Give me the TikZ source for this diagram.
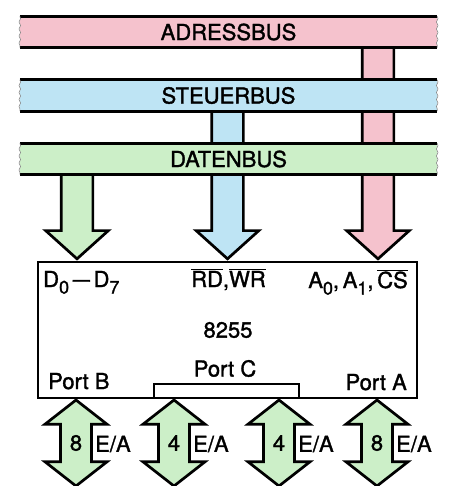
\documentclass[tikz,border=0pt]{standalone}
\usepackage{fontspec}
\setmainfont{TeX Gyre Heros}
\usetikzlibrary{shapes.arrows,decorations.pathmorphing}
\definecolor{busRosa}{HTML}{F5C2CD}
\definecolor{busBlau}{HTML}{BEE4F4}
\definecolor{busGruen}{HTML}{CCEFC8}
\newcommand{\tief}[1]{\raisebox{-6.5pt}{\fontsize{18}{20}\selectfont #1}}
\newcommand{\strich}{\,\scalebox{1.4}[1]{--}\,}

\begin{document}
\begin{tikzpicture}[
        x=1pt, y=-1pt,
        schrift/.style={font=\fontsize{22}{26}\selectfont\addfontfeature{FakeBold=1.5}},
        bus/.style={rectangle, schrift, inner sep=0pt, minimum width=417pt, minimum height=31pt},
        kante/.style={line width=3pt, draw=black},
        riss/.style={draw=black!45, line width=0.6pt, decorate, decoration={snake, amplitude=0.8pt, segment length=7pt}},
        buspfeil/.style={single arrow, shape border rotate=270, draw=black, line width=2.7pt, inner sep=14.5pt, single arrow head extend=15.5pt, single arrow tip angle=96, anchor=tip},
        iopfeil/.style={double arrow, shape border rotate=90, draw=black, line width=2.7pt, fill=busGruen, schrift, inner xsep=8pt, inner ysep=0pt, double arrow head extend=15.5pt, double arrow tip angle=104, minimum height=86pt},
        etikett/.style={schrift, inner sep=0pt}
    ]
    \useasboundingbox (0,0) rectangle (448,486);

    % Baustein 8255
    \node[draw, line width=2.7pt, minimum width=379pt, minimum height=136pt] (ppi) at (227.5,330) {};

    % Abzweige der Busse (liegen unter den Bussen)
    \coordinate (xD) at (77,0);
    \coordinate (xS) at (227.5,0);
    \coordinate (xA) at (378,0);
    \node[buspfeil, fill=busGruen, minimum height=96pt] (pfeilD) at (xD |- ppi.north) {};
    \node[buspfeil, fill=busBlau, minimum height=161pt] (pfeilS) at (xS |- ppi.north) {};
    \node[buspfeil, fill=busRosa, minimum height=221pt] (pfeilA) at (xA |- ppi.north) {};

    % Busse
    \node[bus, fill=busRosa] (adressbus) at (228.5,32) {ADRESSBUS};
    \node[bus, fill=busBlau] (steuerbus) at (228.5,95.5) {STEUERBUS};
    \node[bus, fill=busGruen] (datenbus) at (228.5,159) {DATENBUS};
    \foreach \b in {adressbus, steuerbus, datenbus} {
        \draw[kante] (\b.north west) -- (\b.north east);
        \draw[kante] (\b.south west) -- (\b.south east);
        \draw[riss] (\b.north west) -- (\b.south west);
        \draw[riss] (\b.north east) -- (\b.south east);
    }

    % Anschluesse
    \node[etikett, anchor=base west] (datenpins) at (43,287) {D\tief{0}\strich D\tief{7}};
    \node[etikett, anchor=base] (steuerpins) at (228.5,287) {$\overline{\mbox{RD}}$,$\overline{\mbox{WR}}$};
    \node[etikett, anchor=base east] (adrpins) at (408,288) {A\tief{0},\,A\tief{1},\,$\overline{\mbox{CS}}$};
    \node[etikett] (typ) at (228,330) {8255};
    \node[etikett] (portC) at (225,368.5) {Port C};
    \node[etikett, anchor=base west] (portB) at (48,389) {Port B};
    \node[etikett, anchor=base east] (portA) at (407,390) {Port A};
    \draw[line width=2.7pt] (154,398) |- (299,384) -- (299,398);

    % Ein-/Ausgabe
    \foreach \x/\n/\p in {76/8/B, 174/4/Ca, 279/4/Cb, 377/8/A} {
        \node[iopfeil] (io\p) at (\x,443) {\n};
        \node[etikett, anchor=west] (ea\p) at (\x+19,444) {E/A};
    }
\end{tikzpicture}
\end{document}
